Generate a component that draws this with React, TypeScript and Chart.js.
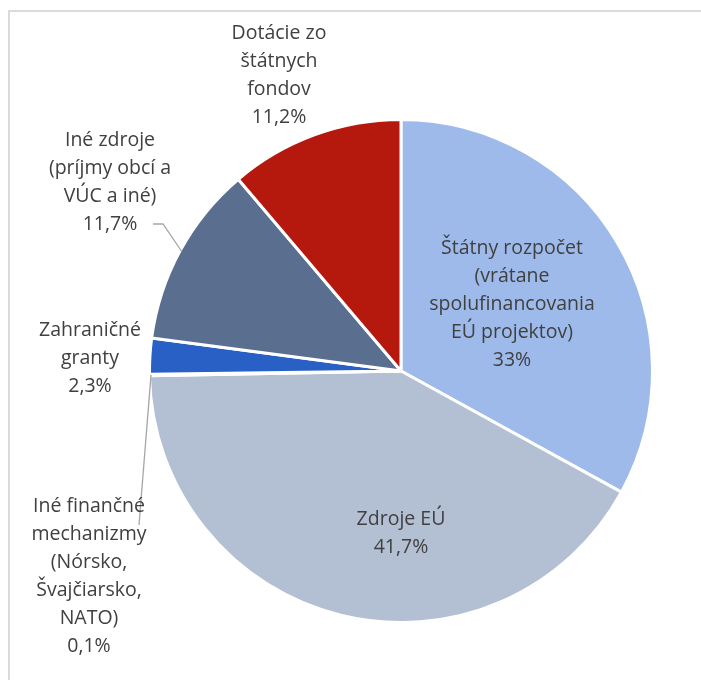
import React, { useEffect, useRef } from "react";
import { Chart, registerables } from "chart.js";
Chart.register(...registerables);

const categories: string[][] = [
  ["Štátny rozpočet", "(vrátane", "spolufinancovania", "EÚ projektov)"],
  ["Zdroje EÚ"],
  ["Iné finančné", "mechanizmy", "(Nórsko,", "Švajčiarsko,", "NATO)"],
  ["Zahraničné", "granty"],
  ["Iné zdroje", "(príjmy obcí a", "VÚC a iné)"],
  ["Dotácie zo", "štátnych", "fondov"],
];
const values = [33, 41.7, 0.1, 2.3, 11.7, 11.2];
const valueLabels = ["33%", "41,7%", "0,1%", "2,3%", "11,7%", "11,2%"];
const colors = ["#9DBAEA", "#B3BFD2", "#ED7D31", "#2960C5", "#5A6F8F", "#B5190E"];

// label layout, in units of pie radius relative to pie centre
const labelLayout = [
  { x: 0.444, y: -0.492, leader: null },
  { x: 0.0, y: 0.592, leader: null },
  { x: -1.248, y: 0.54, leader: [[-1.048, 0.616]] },
  { x: -1.244, y: -0.164, leader: null },
  { x: -1.164, y: -0.924, leader: [[-0.952, -0.588], [-0.992, -0.588]] },
  { x: -0.488, y: -1.352, leader: null },
];

const FONT = '19.5px "Open Sans", "Noto Sans", sans-serif';
const LINE_H = 28;

const labelPlugin = {
  id: "pieLabels",
  afterDraw(chart: any) {
    const ctx = chart.ctx;
    const meta = chart.getDatasetMeta(0);
    ctx.save();
    meta.data.forEach((arc: any, i: number) => {
      const p = arc.getProps(["x", "y", "outerRadius", "startAngle", "endAngle"], true);
      const r = p.outerRadius - 1.5;
      const lay = labelLayout[i];
      if (lay.leader) {
        const mid = (p.startAngle + p.endAngle) / 2;
        ctx.beginPath();
        ctx.strokeStyle = "#A6A6A6";
        ctx.lineWidth = 1.3;
        ctx.moveTo(p.x + Math.cos(mid) * r, p.y + Math.sin(mid) * r);
        lay.leader.forEach((pt: number[]) => ctx.lineTo(p.x + pt[0] * r, p.y + pt[1] * r));
        ctx.stroke();
      }
      const lines = [...categories[i], valueLabels[i]];
      ctx.font = FONT;
      ctx.fillStyle = "#404040";
      ctx.textAlign = "center";
      ctx.textBaseline = "middle";
      const cx = p.x + lay.x * r;
      const cy = p.y + lay.y * r;
      lines.forEach((t, k) => ctx.fillText(t, cx, cy + k * LINE_H));
    });
    ctx.restore();
  },
};

export default function App() {
  const ref = useRef<HTMLCanvasElement | null>(null);
  useEffect(() => {
    if (!ref.current) return;
    const chart = new Chart(ref.current, {
      type: "pie",
      data: {
        labels: categories.map((c) => c.join(" ")),
        datasets: [
          {
            data: values,
            backgroundColor: colors,
            borderColor: "#FFFFFF",
            borderWidth: 3,
          },
        ],
      },
      options: {
        responsive: false,
        maintainAspectRatio: false,
        animation: false,
        devicePixelRatio: 1,
        layout: { padding: { left: 148, right: 47, top: 118, bottom: 56 } },
        plugins: {
          legend: { display: false },
          tooltip: { enabled: false },
        },
      },
      plugins: [labelPlugin],
    });
    return () => chart.destroy();
  }, []);
  return (
    <div>
      <div
        style={{
          position: "absolute",
          left: 8,
          top: 10,
          width: 693,
          height: 670,
          borderTop: "2px solid #DADADA",
          borderLeft: "2px solid #DADADA",
          boxSizing: "border-box",
        }}
      />
      <canvas
        ref={ref}
        width={701}
        height={680}
        style={{ position: "absolute", left: 0, top: 0, width: 701, height: 680 }}
      />
    </div>
  );
}
